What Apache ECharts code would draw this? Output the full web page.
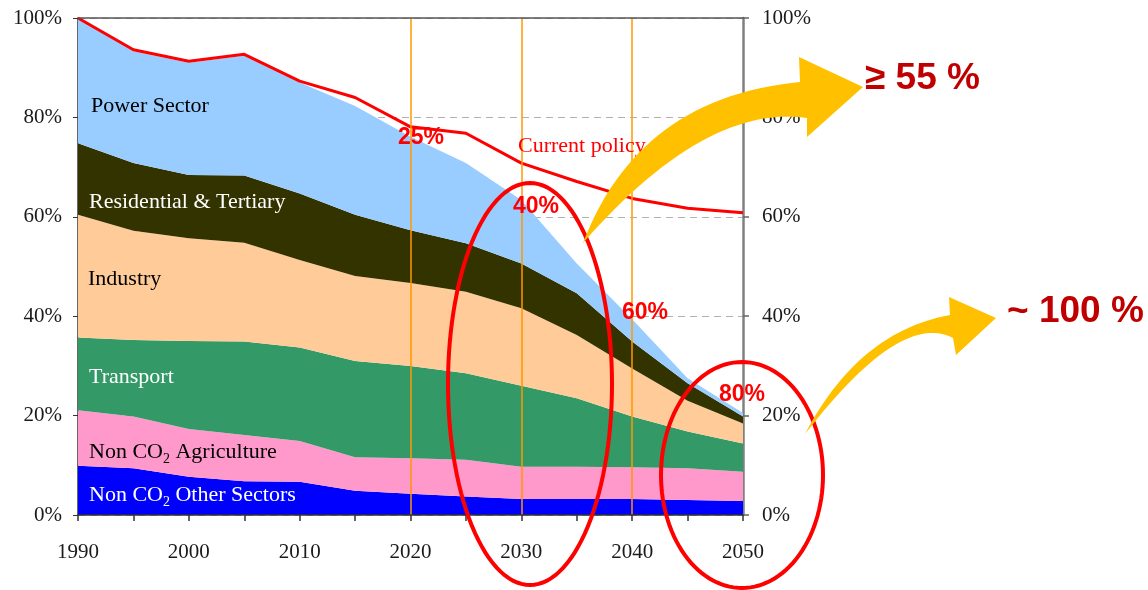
<!DOCTYPE html>
<html><head><meta charset="utf-8">
<script src="https://cdn.jsdelivr.net/npm/echarts@6/dist/echarts.min.js"></script>
<style>html,body{margin:0;padding:0;background:#fff}#c{width:1148px;height:590px}</style>
</head><body><div id="c"></div>
<script>
const years = ['1990','1995','2000','2005','2010','2015','2020','2025','2030','2035','2040','2045','2050'];
const otherSectors = [9.9, 9.4, 7.7, 6.8, 6.7, 4.9, 4.3, 3.7, 3.2, 3.2, 3.2, 3.0, 2.8];
const agriculture  = [11.2, 10.4, 9.6, 9.3, 8.2, 6.7, 7.1, 7.4, 6.5, 6.5, 6.4, 6.4, 5.9];
const transport    = [14.6, 15.4, 17.7, 18.8, 18.8, 19.4, 18.6, 17.4, 16.3, 13.8, 10.2, 7.4, 5.7];
const industry     = [24.7, 22.0, 20.7, 19.9, 17.6, 17.1, 16.7, 16.4, 15.6, 12.7, 9.7, 6.2, 4.0];
const residential  = [14.4, 13.6, 12.7, 13.5, 13.4, 12.3, 10.6, 9.8, 9.0, 8.4, 5.4, 3.5, 1.4];
const power        = [25.2, 22.5, 22.6, 24.1, 22.3, 21.9, 18.8, 16.1, 12.8, 6.0, 4.5, 1.0, 0.7];
const currentPolicy = [100, 93.6, 91.3, 92.7, 87.3, 84.0, 78.1, 76.8, 70.8, 67.1, 63.7, 61.7, 60.8];
const milestoneYears = ['2020', '2030', '2040'];
const sectorNames = ['Non CO2 Other Sectors','Non CO2 Agriculture','Transport','Industry','Residential & Tertiary','Power Sector'];
const sectorColors = ['#0000FF','#FF99CC','#339966','#FFCC99','#333300','#99CCFF'];
const sectorData = [otherSectors, agriculture, transport, industry, residential, power];

const serif = '"Liberation Serif","Times New Roman",serif';
const sans = '"Liberation Sans",Arial,sans-serif';

const series = sectorData.map((d,i)=>({
  name: sectorNames[i], type:'line', stack:'total', data: d,
  symbol:'none', lineStyle:{width:0}, areaStyle:{color:sectorColors[i], opacity:1},
  itemStyle:{color:sectorColors[i]}, z:2, silent:true
}));
series.push({
  name:'Current policy', type:'line', data: currentPolicy, symbol:'none',
  lineStyle:{color:'#FF0000', width:3}, z:4, silent:true,
  markLine:{silent:true, symbol:'none', label:{show:false},
    lineStyle:{color:'#FF9900', width:1.5, type:'solid'},
    data: milestoneYears.map(y=>({xAxis:y}))}
});

function txt(x,y,text,opt){
  return {type:'text', x, y, z:100, style:Object.assign({text, font:'22px '+serif, fill:'#000', verticalAlign:'middle'}, opt||{})};
}
const subRich = color => ({
  n:{fontSize:22, fontFamily:serif, fill:color, lineHeight:28, verticalAlign:'middle'},
  s:{fontSize:14, fontFamily:serif, fill:color, lineHeight:14, verticalAlign:'bottom'}
});
function ellipsePts(cx,cy,rx,ry){
  const p=[]; for(let i=0;i<120;i++){const a=i/120*Math.PI*2; p.push([cx+rx*Math.cos(a), cy+ry*Math.sin(a)]);} return p;
}
function ell(cx,cy,rx,ry){
  return {type:'polygon', z:110, shape:{points:ellipsePts(cx,cy,rx,ry)}, style:{fill:null, stroke:'#FF0000', lineWidth:4}};
}
function quad(p0,c,p2,n){
  const out=[]; for(let i=0;i<=n;i++){const t=i/n,u=1-t; out.push([u*u*p0[0]+2*u*t*c[0]+t*t*p2[0], u*u*p0[1]+2*u*t*c[1]+t*t*p2[1]]);} return out;
}
function arrow(tail, cUp, bodyTop, barbTop, tip, barbBot, bodyBot, cLow){
  const pts = quad(tail,cUp,bodyTop,30).concat([barbTop, tip, barbBot]).concat(quad(bodyBot,cLow,tail,30));
  return {type:'polygon', z:120, shape:{points:pts}, style:{fill:'#FFC000'}};
}

const chart = echarts.init(document.getElementById('c'));
chart.setOption({
  animation:false,
  grid:{left:78, right:405, top:18, bottom:75},
  xAxis:[{type:'category', data:years, boundaryGap:false, z:10,
    axisLine:{onZero:false, lineStyle:{color:'#333', width:1.5}},
    axisTick:{show:true, interval:0, length:6, lineStyle:{color:'#333', width:1.5}},
    axisLabel:{interval:1, margin:27, fontFamily:serif, fontSize:21, color:'#1a1a1a'},
    splitLine:{show:false}},
   {type:'category', data:years, boundaryGap:false, position:'top', z:10,
    axisLine:{show:true, onZero:false, lineStyle:{color:'#555', width:1.5}},
    axisTick:{show:false}, axisLabel:{show:false}, splitLine:{show:false}}],
  yAxis:[{type:'value', min:0, max:100, interval:20, position:'left',
    axisLine:{show:true, onZero:false, lineStyle:{color:'#333', width:1.5}},
    axisTick:{show:true, length:5, lineStyle:{color:'#333'}},
    axisLabel:{margin:16, fontFamily:serif, fontSize:21, color:'#1a1a1a', formatter:'{value}%'},
    splitLine:{show:true, lineStyle:{color:'#b0b0b0', type:[7,5], width:1.2}}},
   {type:'value', min:0, max:100, interval:20, position:'right',
    axisLine:{show:true, onZero:false, lineStyle:{color:'#808080', width:2.5}},
    axisTick:{show:true, length:6, lineStyle:{color:'#666', width:1.5}},
    axisLabel:{margin:19, fontFamily:serif, fontSize:21, color:'#1a1a1a', formatter:'{value}%'},
    splitLine:{show:false}}],
  series,
  graphic:[
    txt(91,106,'Power Sector'),
    txt(89,202,'Residential & Tertiary',{fill:'#fff'}),
    txt(88,279,'Industry'),
    txt(89,377,'Transport',{fill:'#fff'}),
    {type:'text', x:89, y:452, z:100, style:{text:'{n|Non CO}{s|2}{n| Agriculture}', rich:subRich('#000'), verticalAlign:'middle'}},
    {type:'text', x:89, y:495, z:100, style:{text:'{n|Non CO}{s|2}{n| Other Sectors}', rich:subRich('#fff'), verticalAlign:'middle'}},
    txt(518,146,'Current policy',{fill:'#FF0000'}),
    txt(398,138,'25%',{fill:'#FF0000', font:'bold 23px '+sans}),
    txt(513,207,'40%',{fill:'#FF0000', font:'bold 23px '+sans}),
    txt(622,313,'60%',{fill:'#FF0000', font:'bold 23px '+sans}),
    txt(719,395,'80%',{fill:'#FF0000', font:'bold 23px '+sans}),
    ell(530,384,82,201),
    ell(742,475,81,113),
    arrow([583,243],[638.5,97.5],[800,82],[799,57],[863,87],[807,137],[807,118],[705,103.5]),
    arrow([805,434],[858.5,331.5],[950,315],[949,297],[996,318],[956,355],[953,338],[901,310]),
    txt(865,79,'≥ 55 %',{fill:'#C00000', font:'bold 37px '+sans}),
    txt(1007,312,'~ 100 %',{fill:'#C00000', font:'bold 37px '+sans})
  ]
});
</script></body></html>
